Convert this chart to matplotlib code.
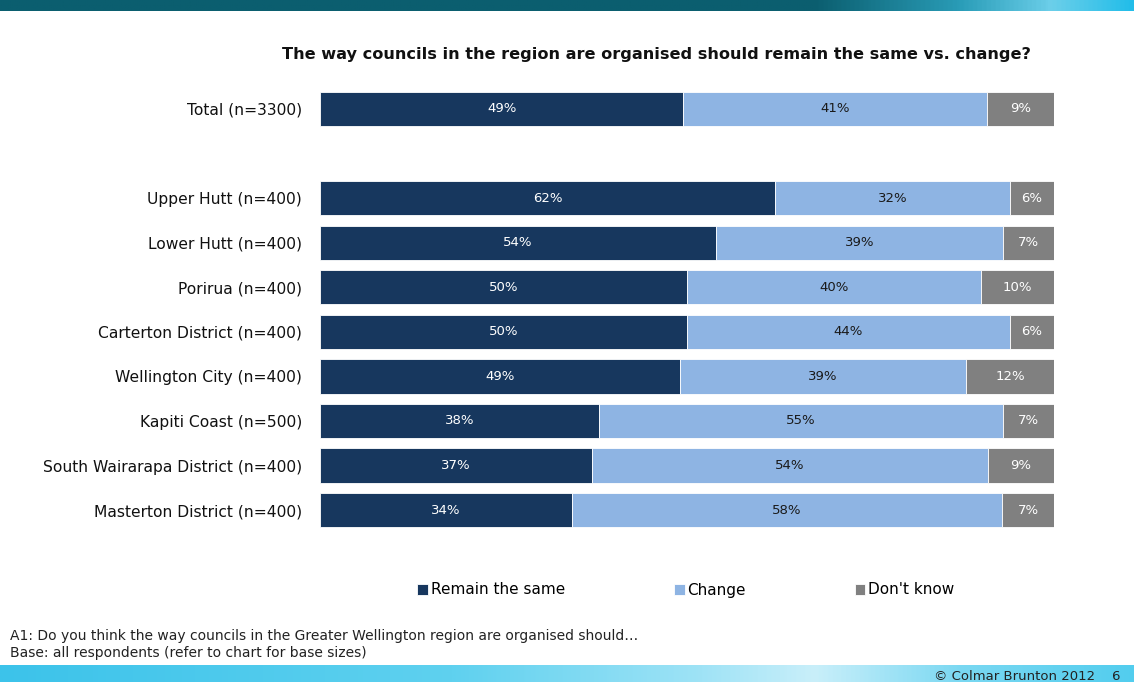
import matplotlib
matplotlib.use('Agg')
import matplotlib.pyplot as plt
import numpy as np
from matplotlib.colors import LinearSegmentedColormap

# survey results, % per council
councils = ['Total (n=3300)', '',
            'Upper Hutt (n=400)', 'Lower Hutt (n=400)', 'Porirua (n=400)',
            'Carterton District (n=400)', 'Wellington City (n=400)',
            'Kapiti Coast (n=500)', 'South Wairarapa District (n=400)',
            'Masterton District (n=400)']
remain = [49, None, 62, 54, 50, 50, 49, 38, 37, 34]
change = [41, None, 32, 39, 40, 44, 39, 55, 54, 58]
dont_know = [9, None, 6, 7, 10, 6, 12, 7, 9, 7]
series_names = ['Remain the same', 'Change', "Don't know"]
series_colors = ['#17375e', '#8eb4e3', '#808080']
text_colors = ['white', '#1a1a1a', 'white']

fig = plt.figure(figsize=(11.34, 6.82), dpi=100)
W, H = 1134, 682

def px(x0, y0, x1, y1):
    return [x0 / W, 1 - y1 / H, (x1 - x0) / W, (y1 - y0) / H]

# header and footer bands
top = fig.add_axes(px(0, 0, W, 11))
top_cmap = LinearSegmentedColormap.from_list(
    'top', [(0, '#0b5e6f'), (0.72, '#0b5e6f'), (0.85, '#2a9db8'), (0.93, '#6ccfea'), (1, '#22bde9')])
top.imshow(np.linspace(0, 1, 500)[None, :], aspect='auto', cmap=top_cmap, extent=[0, 1, 0, 1])
top.axis('off')

bot = fig.add_axes(px(0, 665, W, H))
bot_cmap = LinearSegmentedColormap.from_list(
    'bot', [(0, '#3cc3ea'), (0.4, '#5fd1ef'), (0.62, '#9fe3f6'), (0.72, '#c9effa'), (0.85, '#7ad8f2'), (1, '#52cdee')])
bot.imshow(np.linspace(0, 1, 500)[None, :], aspect='auto', cmap=bot_cmap, extent=[0, 1, 0, 1])
bot.axis('off')
fig.text(1120 / W, 1 - 676 / H, '\u00a9 Colmar Brunton 2012    6', ha='right', va='center',
         fontsize=9.5, color='#222222')

ax = fig.add_axes(px(320, 80, 1054, 540))
y = np.arange(len(councils))
rows = [i for i in range(len(councils)) if remain[i] is not None]
for i in rows:
    vals = [remain[i], change[i], dont_know[i]]
    total = sum(vals)
    left = 0
    for k, v in enumerate(vals):
        w = v / total * 100
        ax.barh(y[i], w, left=left, height=0.77, color=series_colors[k],
                edgecolor='white', linewidth=0.6, label=series_names[k] if i == 0 else None)
        ax.text(left + w / 2, y[i], f'{v}%', ha='center', va='center',
                fontsize=9.5, color=text_colors[k])
        left += w

ax.set_xlim(0, 100)
ax.set_ylim(9.67, -0.65)
ax.set_yticks(rows)
ax.set_yticklabels([councils[i] for i in rows], fontsize=11.2, color='#111111')
ax.tick_params(axis='y', length=0, pad=13)
ax.set_xticks([])
for s in ax.spines.values():
    s.set_visible(False)

fig.text(656 / W, 1 - 55 / H,
         'The way councils in the region are organised should remain the same vs. change?',
         ha='center', va='center', fontsize=11.6, fontweight='bold', color='#111111')

ax.legend(loc='center', bbox_to_anchor=(686 / W, 1 - 590 / H), bbox_transform=fig.transFigure,
          ncol=3, frameon=False, handlelength=0.7, handleheight=0.7, handletextpad=0.2,
          columnspacing=7.1, fontsize=11)

fig.text(10 / W, 1 - 636 / H,
         'A1: Do you think the way councils in the Greater Wellington region are organised should\u2026',
         ha='left', va='center', fontsize=10, color='#222222')
fig.text(10 / W, 1 - 653 / H, 'Base: all respondents (refer to chart for base sizes)',
         ha='left', va='center', fontsize=10, color='#222222')

fig.savefig('out.png', dpi=100)
